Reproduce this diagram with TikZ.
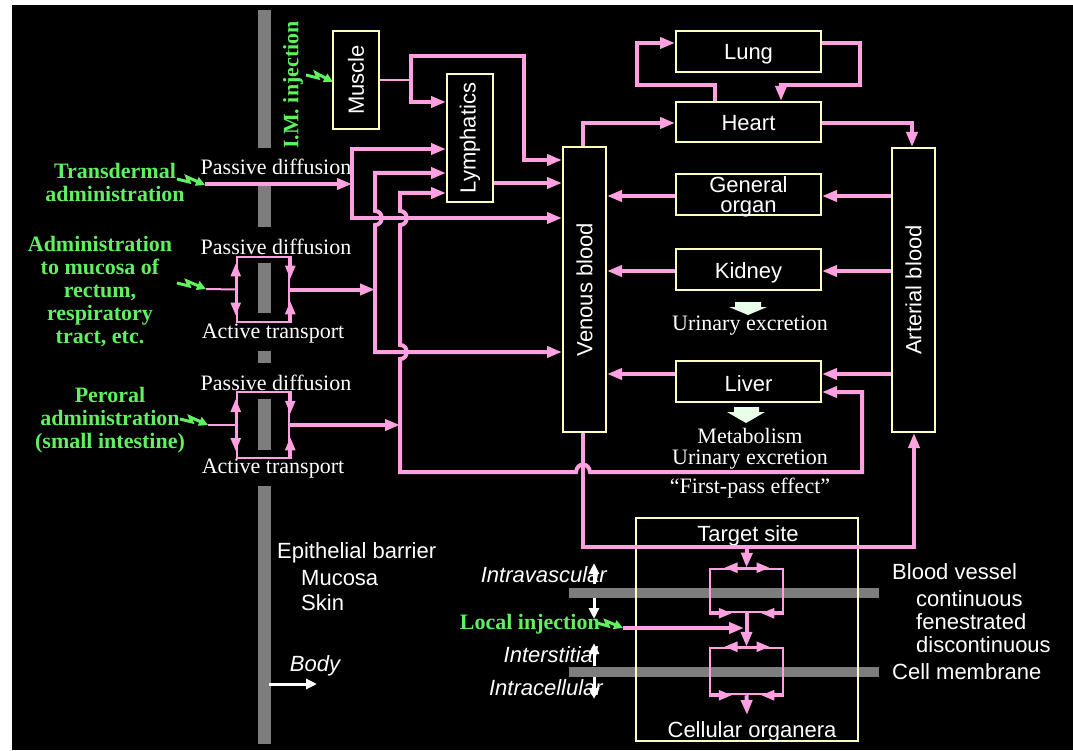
\documentclass[tikz,border=0pt]{standalone}
\usepackage{fontspec}
\setmainfont{Liberation Serif}
\setsansfont{Liberation Sans}
\usetikzlibrary{arrows.meta}
\definecolor{pinkc}{RGB}{255,160,225}
\definecolor{boxc}{RGB}{255,255,192}
\definecolor{greenc}{RGB}{96,240,96}
\definecolor{barc}{RGB}{125,125,125}
\definecolor{paleg}{RGB}{232,255,232}
\tikzset{
  obox/.style={draw=boxc, line width=2pt, inner sep=0pt},
  sans/.style={text=white, font=\sffamily\fontsize{22}{20}\selectfont, align=center, inner sep=0pt, yshift=-3pt},
  lsans/.style={text=white, font=\sffamily\fontsize{22}{20}\selectfont, inner sep=0pt, anchor=west},
  rsans/.style={text=white, font=\sffamily\fontsize{22}{20}\selectfont, align=center, inner sep=0pt, rotate=90},
  isans/.style={text=white, font=\sffamily\itshape\fontsize{22}{20}\selectfont, inner sep=0pt},
  serif/.style={text=white, font=\rmfamily\fontsize{22}{23}\selectfont, align=center, inner sep=0pt, yshift=-1.5pt},
  gtxt/.style={text=greenc, font=\rmfamily\bfseries\fontsize{22}{23}\selectfont, align=center, inner sep=0pt},
  conn/.style={draw=pinkc, line width=4pt, -{Triangle[length=15pt,width=11pt]}},
  conn2/.style={draw=pinkc, line width=4pt, {Triangle[length=15pt,width=11pt]}-{Triangle[length=15pt,width=11pt]}},
  pline/.style={draw=pinkc, line width=2pt},
  parr/.style={draw=pinkc, line width=2.5pt, -{Triangle[length=13pt,width=10pt]}},
  pbox/.style={draw=pinkc, line width=2.5pt, inner sep=0pt},
  bolt/.style={draw=greenc, line width=3pt, line join=miter, -{Triangle[length=9pt,width=9pt]}},
  warr/.style={draw=white, line width=3pt, -{Triangle[length=11pt,width=10pt]}},
}
\begin{document}
\begin{tikzpicture}[x=1pt,y=-1pt]
\useasboundingbox (0,0) rectangle (1073,751);
\fill[white] (0,0) rectangle (1073,751);
\fill[black] (12,5) rectangle (1073,750);

% epithelial barrier
\fill[barc] (258,10) rectangle (271,148);
\fill[barc] (258,186) rectangle (271,227);
\fill[barc] (258,263) rectangle (271,313);
\fill[barc] (258,351) rectangle (271,363);
\fill[barc] (258,399) rectangle (271,450);
\fill[barc] (258,486) rectangle (271,744);
% blood vessel / cell membrane bars
\fill[barc] (569,588) rectangle (879,598);
\fill[barc] (569,667) rectangle (879,677);

% boxes
\node[obox, fill=black, minimum width=46pt, minimum height=98pt] (muscle) at (356,80) {};
\node[rsans] (muscleT) at (muscle) {Muscle};
\node[obox, fill=black, minimum width=46pt, minimum height=128pt] (lymph) at (470,138) {};
\node[rsans] (lymphT) at (lymph) {Lymphatics};
\node[obox, fill=black, minimum width=43pt, minimum height=285pt] (venous) at (584.5,289.5) {};
\node[rsans] (venousT) at (venous) {Venous blood};
\node[obox, fill=black, minimum width=43pt, minimum height=284pt] (arterial) at (913.5,290) {};
\node[rsans] (arterialT) at (arterial) {Arterial blood};
\node[obox, fill=black, minimum width=145pt, minimum height=41pt] (lung) at (748.5,51.5) {};
\node[sans] (lungT) at (lung) {Lung};
\node[obox, fill=black, minimum width=145pt, minimum height=40pt] (heart) at (748.5,122) {};
\node[sans] (heartT) at (748.5,120.5) {Heart};
\node[obox, fill=black, minimum width=145pt, minimum height=41pt] (general) at (748.5,194.5) {};
\node[sans] (generalT) at (748.5,193.5) {General\\organ};
\node[obox, fill=black, minimum width=145pt, minimum height=41pt] (kidney) at (748.5,269.5) {};
\node[sans] (kidneyT) at (kidney) {Kidney};
\node[obox, fill=black, minimum width=145pt, minimum height=41pt] (liver) at (748.5,381.5) {};
\node[sans] (liverT) at (748.5,380.5) {Liver};
\node[obox, minimum width=222pt, minimum height=223pt] (target) at (747,629.5) {};
\node[sans] (targetT) at (748,533) {Target site};
\node[sans] (organT) at (752,729) {Cellular organera};

% block arrows
\fill[paleg] (735,302) -- (761,302) -- (761,307) -- (767,307) -- (748,315) -- (729,307) -- (735,307) -- cycle;
\fill[paleg] (734,407) -- (759,407) -- (759,412) -- (765,412) -- (746,423) -- (727,412) -- (734,412) -- cycle;
\node[serif] (urin1) at (750,324) {Urinary excretion};
\node[serif] (metab) at (750,434) {Metabolism};
\node[serif] (urin2) at (750,458) {Urinary excretion};
\node[serif] (fpe) at (750,487) {“First-pass effect”};

% left labels
\node[gtxt, rotate=90] (imT) at (293,85) {I.M. injection};
\node[gtxt] (tdT) at (115,182) {Transdermal\\administration};
\node[gtxt] (mucT) at (100,291.5) {Administration\\to mucosa of\\rectum,\\respiratory\\tract, etc.};
\node[gtxt] (perT) at (110,420) {Peroral\\administration\\(small intestine)};
\node[serif] (pd1) at (276,165) {Passive diffusion};
\node[serif] (pd2) at (276,245) {Passive diffusion};
\node[serif] (at1) at (273,332) {Active transport};
\node[serif] (pd3) at (276,381) {Passive diffusion};
\node[serif] (at2) at (273,467) {Active transport};

\node[lsans] (epi) at (277,553) {Epithelial barrier};
\node[lsans] (muc) at (301,578) {Mucosa};
\node[lsans] (skin) at (301,603) {Skin};
\node[isans] (bodyT) at (315,666) {Body};
\coordinate (bodyS) at (269,684);
\coordinate (bodyE) at (317,684);
\draw[warr] (bodyS) -- (bodyE);

% lightning bolts
\coordinate (imS) at (306,75); \coordinate (imE) at (333,82);
\draw[bolt] (imS) -- ++(12,3) -- ++(-2,-5) -- (imE);
\coordinate (tdS) at (177,179); \coordinate (tdE) at (205,185);
\draw[bolt] (tdS) -- ++(12,3) -- ++(-2,-5) -- (tdE);
\coordinate (mbS) at (177,283); \coordinate (mbE) at (206,289);
\draw[bolt] (mbS) -- ++(12,3) -- ++(-2,-5) -- (mbE);
\coordinate (peS) at (180,419); \coordinate (peE) at (208,425);
\draw[bolt] (peS) -- ++(12,3) -- ++(-2,-5) -- (peE);
\coordinate (liS) at (597,623); \coordinate (liE) at (623,628);
\draw[bolt] (liS) -- ++(11,3) -- ++(-2,-5) -- (liE);

% mucosa / peroral membrane boxes
\node[pbox, minimum width=52pt, minimum height=65pt] (mbox) at (263,289.5) {};
\node[pbox, minimum width=52pt, minimum height=66pt] (pbx) at (263,425) {};
\foreach \b in {mbox,pbx}{
  \draw[parr] (\b.west) -- ++(0,-26);
  \draw[parr] (\b.west) -- ++(0,26);
  \draw[parr] (\b.north east) -- ++(0,23);
  \draw[parr] (\b.south east) -- ++(0,-22);
}
\draw[pline] (mbE) -- (mbox.west);
\draw[pline] (peE) -- (pbx.west);

% transdermal and bus lines
\coordinate (xA) at (352,0);
\coordinate (xB) at (375,0);
\coordinate (xC) at (400,0);
\draw[conn] (tdE |- 0,184) -- (xA |- 0,184);
\draw[conn2] (lymph.west |- 0,149) -- (352,149) -- (352,218) -- (venous.west |- 0,218);
\draw[conn2] (lymph.west |- 0,173) -- (375,173) -- (375,211) .. controls (384,211) and (384,225) .. (375,225) -- (375,352) -- (venous.west |- 0,352);
\draw[conn] (mbox.east) -- (xB |- mbox.east);
\draw[conn] (pbx.east) -- (xC |- pbx.east);
\draw[conn] (venous.south -| 583,0) -- (583,547) -- (914,547) -- (arterial.south -| 914,0);
\draw[conn2] (lymph.west |- 0,193) -- (400,193) -- (400,211) .. controls (409,211) and (409,225) .. (400,225) -- (400,345) .. controls (409,345) and (409,359) .. (400,359) -- (400,472) -- (576,472) .. controls (577,462) and (589,462) .. (590,472) -- (862,472) -- (862,392) -- (liver.east |- 0,392);

% muscle outflow
\coordinate (mJ) at (411,80);
\draw[pline] (muscle.east) -- (mJ);
\draw[conn2] (venous.west |- 0,160) -- (524,160) -- (524,56) -- (411,56) -- (411,102) -- (lymph.west |- 0,102);
\draw[pline] (mJ) -- (411,58);
\draw[conn] (lymph.east |- 0,183) -- (venous.west |- 0,183);

% heart / lung
\draw[conn] (heart.north -| 715,0) -- (715,85) -- (637,85) -- (637,43) -- (lung.west |- 0,43);
\draw[conn] (lung.east |- 0,43) -- (860,43) -- (860,85) -- (781,85) -- (heart.north -| 781,0);
\draw[conn] (venous.north -| 583,0) -- (583,123) -- (heart.west |- 0,123);
\draw[conn] (heart.east |- 0,123) -- (912,123) -- (arterial.north -| 912,0);

% organs
\draw[conn] (arterial.west |- 0,196) -- (general.east |- 0,196);
\draw[conn] (general.west |- 0,196) -- (venous.east |- 0,196);
\draw[conn] (arterial.west |- 0,271) -- (kidney.east |- 0,271);
\draw[conn] (kidney.west |- 0,271) -- (venous.east |- 0,271);
\draw[conn] (arterial.west |- 0,374) -- (liver.east |- 0,374);
\draw[conn] (liver.west |- 0,374) -- (venous.east |- 0,374);

% target site internals
\node[pbox, minimum width=73pt, minimum height=43pt] (ub) at (746.5,590.5) {};
\node[pbox, minimum width=73pt, minimum height=46pt] (lb) at (746.5,671) {};
\foreach \b in {ub,lb}{
  \draw[parr] (\b.north) -- ++(-22,0);
  \draw[parr] (\b.north) -- ++(23,0);
  \draw[parr] (\b.south west) -- ++(23,0);
  \draw[parr] (\b.south east) -- ++(-23,0);
}
\coordinate (tJ) at (747,547);
\draw[conn] (tJ) -- (ub.north);
\draw[conn] (ub.south) -- (lb.north);
\coordinate (liT) at (744,628);
\draw[conn] (liE |- liT) -- (liT);
\coordinate (orgTop) at (747,715);
\draw[conn] (lb.south) -- (orgTop);

% compartments
\node[isans, anchor=east] (intrav) at (607,575) {Intravascular};
\node[isans, anchor=east] (inters) at (598,655) {Interstitial};
\node[isans, anchor=east] (intrac) at (603,688) {Intracellular};
\draw[warr] (594,584) -- (594,563);
\draw[warr] (594,598) -- (594,619);
\draw[warr] (594,666) -- (594,643);
\draw[warr] (594,677) -- (594,699);
\node[gtxt, anchor=east] (locT) at (600,624) {Local injection};

\node[lsans] (bv) at (892,572) {Blood vessel};
\node[lsans] (cont) at (916,599) {continuous};
\node[lsans] (fen) at (916,622) {fenestrated};
\node[lsans] (disc) at (916,645) {discontinuous};
\node[lsans] (cm) at (892,672) {Cell membrane};
\end{tikzpicture}
\end{document}
